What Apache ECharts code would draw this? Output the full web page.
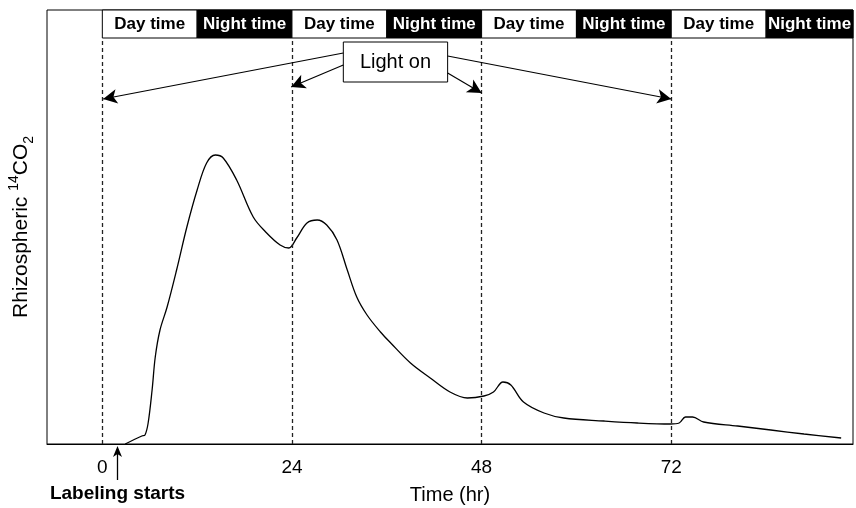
<!DOCTYPE html>
<html lang="en">
<head>
	<meta charset="UTF-8">
	<title>Rhizospheric 14CO2</title>
	<style>
		html, body { margin: 0; padding: 0; background: #fff; }
	</style>
</head>
<body>
	<div id="main" style="width:856px;height:508px;"></div>
<script src="https://cdn.jsdelivr.net/npm/echarts@6/dist/echarts.min.js"></script>
<script>
	// time (hr) and relative 14CO2 signal
	var hours = [2.9, 5.0, 5.4, 5.8, 6.3, 6.7, 7.3, 8.2, 9.4, 10.7, 12.0, 13.2, 14.3, 15.3, 17.0, 19.1, 20.8, 22.5, 23.6, 24.6, 25.9, 27.2, 28.4, 29.7, 31.0, 32.2, 33.5, 35.2, 36.5, 39.0, 41.5, 44.0, 46.2, 48.3, 49.5, 50.7, 51.7, 53.3, 55.9, 58.4, 63.5, 67.7, 71.9, 73.0, 73.8, 74.7, 76.1, 80.4, 84.6, 88.8, 93.5];
	var co2 = [0, 8, 9, 21, 54, 87, 114, 137, 174, 217, 254, 281, 289, 286, 264, 227, 211, 199, 196, 206, 221, 224, 219, 204, 174, 147, 129, 112, 101, 81, 66, 52, 46, 48, 52, 62, 59, 42, 31, 26, 23, 21, 20, 21, 27, 27, 22, 18, 14, 10, 6];
	var tickLabels = [0, 24, 48, 72];
	var lightOn = [0, 24, 48, 72];
	var periods = ['Day time', 'Night time', 'Day time', 'Night time', 'Day time', 'Night time', 'Day time', 'Night time'];
	var labelStart = 1.85;

	var FONT = '"Liberation Sans", Arial, Helvetica, sans-serif';
	var TOP = 434, BAND = 406;

	var pts = [];
	for (var i = 0; i < hours.length; i++) pts.push([hours[i], co2[i]]);

	// header band boxes, 12 h each
	var bands = [];
	for (var k = 0; k < periods.length; k++) {
		var night = periods[k] == 'Night time';
		bands.push([{
			name: periods[k],
			xAxis: k * 12,
			yAxis: BAND,
			itemStyle: { color: night ? '#000' : '#fff', borderColor: '#000', borderWidth: 1 },
			label: { color: night ? '#fff' : '#000' }
		}, { xAxis: k * 12 + 12, yAxis: TOP }]);
	}
	// "Light on" box
	bands.push([{
		name: 'Light on',
		xAxis: 30.5, yAxis: 362,
		itemStyle: { color: '#fff', borderColor: '#000', borderWidth: 1 },
		label: { fontWeight: 'normal', fontSize: 20, color: '#000' }
	}, { xAxis: 43.7, yAxis: 402 }]);

	var lines = [];
	for (var j = 0; j < lightOn.length; j++) {
		lines.push([{ coord: [lightOn[j], 0], symbol: 'none', lineStyle: { type: [4, 3], width: 1.3, color: '#222' } },
			{ coord: [lightOn[j], BAND], symbol: 'none' }]);
	}
	// arrows from the box to each light-on line
	var arrows = [
		[[30.5, 391], [0.1, 345]],
		[[30.5, 379], [23.9, 357]],
		[[43.7, 371], [48, 351]],
		[[43.7, 388], [72, 345]]
	];
	arrows.forEach(function (a) {
		lines.push([{ coord: a[0], symbol: 'none', lineStyle: { type: 'solid', width: 1.2, color: '#000' } },
			{ coord: a[1], symbol: 'arrow', symbolSize: [11, 14] }]);
	});

	var chart = echarts.init(document.getElementById('main'));
	chart.setOption({
		animation: false,
		textStyle: { fontFamily: FONT },
		grid: { left: 47, right: 3, top: 10, bottom: 64, show: true, borderColor: '#000', borderWidth: 1, outerBoundsMode: 'none', containLabel: false },
		xAxis: {
			type: 'value', min: -7, max: 95,
			name: 'Time (hr)', nameLocation: 'middle', nameGap: 41,
			nameTextStyle: { fontSize: 20, color: '#000', fontFamily: FONT },
			axisLine: { onZero: false, lineStyle: { color: '#000', width: 1 } },
			axisTick: { show: false },
			splitLine: { show: false },
			axisLabel: { customValues: tickLabels, fontSize: 19, color: '#000', margin: 14, fontFamily: FONT }
		},
		yAxis: {
			type: 'value', min: 0, max: TOP,
			name: '{a|Rhizospheric }{b|14}{a|CO}{c|2}',
			nameLocation: 'middle', nameRotate: 90, nameGap: 11,
			nameTextStyle: {
				color: '#000',
				rich: {
					a: { fontSize: 21, lineHeight: 29, fontFamily: FONT, color: '#000' },
					b: { fontSize: 14, verticalAlign: 'top', fontFamily: FONT, color: '#000' },
					c: { fontSize: 14, verticalAlign: 'bottom', fontFamily: FONT, color: '#000' }
				}
			},
			axisLine: { show: false, onZero: false },
			axisTick: { show: false },
			axisLabel: { show: false },
			splitLine: { show: false }
		},
		series: [{
			type: 'line',
			data: pts,
			smooth: 0.35,
			symbol: 'none',
			lineStyle: { color: '#000', width: 1.3 },
			markArea: {
				silent: true,
				label: { show: true, position: 'inside', fontWeight: 'bold', fontSize: 17, fontFamily: FONT },
				data: bands
			},
			markLine: {
				silent: true,
				animation: false,
				label: { show: false },
				data: lines
			}
		}]
	});

	// "Labeling starts" arrow under the axis, placed from the axis scale
	var p = chart.convertToPixel({ gridIndex: 0 }, [labelStart, 0]);
	var ax = Math.round(p[0]) + 0.5;
	chart.setOption({
		graphic: [
			{ type: 'line', shape: { x1: ax, y1: p[1] + 36, x2: ax, y2: p[1] + 5 }, style: { stroke: '#000', lineWidth: 1.3 } },
			{ type: 'polygon', shape: { points: [[ax, p[1] + 2], [ax - 4.5, p[1] + 13], [ax, p[1] + 10], [ax + 4.5, p[1] + 13]] }, style: { fill: '#000' } },
			{ type: 'text', x: ax, y: p[1] + 40, style: { text: 'Labeling starts', font: 'bold 19px ' + FONT, fill: '#000', align: 'center' } }
		]
	});
</script>
</body>
</html>
